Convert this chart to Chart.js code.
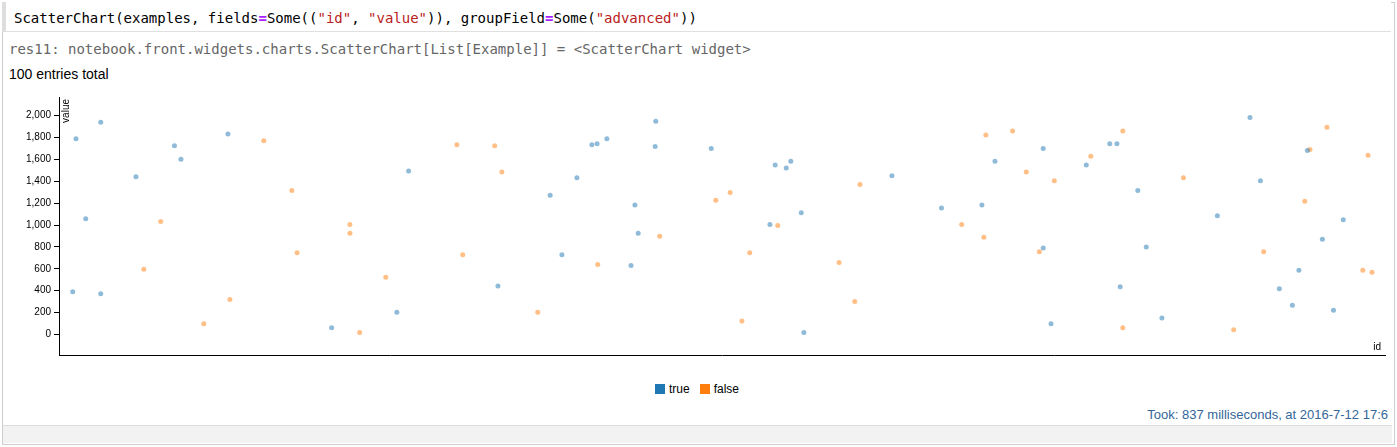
<!DOCTYPE html>
<html><head><meta charset="utf-8">
<script src="https://cdn.jsdelivr.net/npm/chart.js@4"></script>
<style>
body{margin:0;background:#fff;font-family:"Liberation Sans",Arial,sans-serif;}
#frame{position:absolute;left:2px;top:2px;width:1391px;height:441px;border:1px solid #cfcfcf;}
#code{position:absolute;left:2px;top:2px;width:1389px;height:30px;background:#fff;border-bottom:1px solid #e0e0e0;border-left:4px solid #ddd;box-sizing:border-box;font:14px "DejaVu Sans Mono",monospace;padding:8px 0 0 8px;color:#000;}
.s{color:#ba2121}.k{color:#aa22ff;font-weight:bold}
#res{position:absolute;left:9px;top:41px;font:14px "DejaVu Sans Mono",monospace;color:#666;}
#total{position:absolute;left:9px;top:66px;font-size:14px;}
#c{position:absolute;left:8px;top:88px;}
#legend{position:absolute;left:655px;top:382px;font-size:12px;}
#legend span.b{display:inline-block;width:10px;height:10px;margin-right:4px;vertical-align:-1px}
#took{position:absolute;right:9px;top:407px;font-size:13px;color:#336699;}
#foot{position:absolute;left:3px;top:425px;width:1389px;height:17px;background:#f2f2f2;border-top:1px solid #ddd;}
</style></head><body>
<div id="frame"></div>
<div id="code">ScatterChart(examples, fields<span class="k">=</span>Some((<span class="s">"id"</span>, <span class="s">"value"</span>)), groupField<span class="k">=</span>Some(<span class="s">"advanced"</span>))</div>
<div id="res">res11: notebook.front.widgets.charts.ScatterChart[List[Example]] = &lt;ScatterChart widget&gt;</div>
<div id="total">100 entries total</div>
<canvas id="c" width="1382" height="290"></canvas>
<div id="legend"><span class="b" style="background:#1f77b4"></span>true&nbsp;&nbsp;&nbsp;<span class="b" style="background:#ff7f0e"></span>false</div>
<div id="took">Took: 837 milliseconds, at 2016-7-12 17:6</div>
<div id="foot"></div>
<script>
const trueIds = [0,5,20,43,43,97,156,166,238,397,497,515,652,732,750,773,796,804,819,856,862,867,893,894,979,1069,1077,1094,1101,1117,1121,1256,1332,1394,1414,1488,1488,1500,1554,1590,1601,1606,1633,1646,1670,1755,1805,1821,1850,1870,1880,1893,1916,1933,1948];
const trueValues = [391,1787,1058,1938,373,1440,1724,1600,1831,62,204,1493,444,1271,729,1431,1733,1742,1787,631,1182,924,1716,1947,1698,1004,1547,1520,1582,1111,18,1449,1156,1182,1582,1698,791,98,1547,1742,1742,436,1316,800,151,1084,1982,1404,418,267,587,1680,871,222,1049];
const falseIds = [109,135,201,241,293,336,344,425,425,440,480,589,598,647,658,713,805,900,986,1008,1026,1038,1081,1175,1199,1207,1363,1397,1400,1441,1462,1482,1505,1561,1610,1610,1703,1780,1826,1889,1897,1923,1978,1986,1992];
const falseValues = [596,1031,98,320,1769,1316,747,1004,924,18,524,1733,729,1724,1484,204,640,898,1227,1298,124,747,996,658,302,1369,1004,889,1822,1858,1484,756,1404,1627,1858,62,1431,44,756,1218,1689,1893,587,1636,569];

const pts = (xs, ys) => xs.map((x, i) => ({x: x, y: ys[i]}));
const tickFilter = s => { s.ticks = s.ticks.filter(t => t.value >= 0 && t.value % 200 === 0); };

const titles = {
  id: 'titles',
  afterDraw(chart) {
    const c = chart.ctx, a = chart.chartArea;
    c.save();
    c.fillStyle = '#000';
    c.font = '10px "Liberation Sans", Arial, sans-serif';
    c.textAlign = 'right';
    c.fillText('id', a.right - 4, a.bottom - 5);
    c.translate(a.left + 10, a.top + 2);
    c.rotate(-Math.PI / 2);
    c.fillText('value', 0, 0);
    c.restore();
  }
};

new Chart(document.getElementById('c'), {
  type: 'scatter',
  data: {
    datasets: [
      {label: 'true', data: pts(trueIds, trueValues), backgroundColor: 'rgba(31,119,180,0.5)', borderWidth: 0, pointRadius: 2.5},
      {label: 'false', data: pts(falseIds, falseValues), backgroundColor: 'rgba(255,127,14,0.5)', borderWidth: 0, pointRadius: 2.5}
    ]
  },
  plugins: [titles],
  options: {
    responsive: false,
    animation: false,
    layout: {padding: {top: 2, right: 5}},
    plugins: {legend: {display: false}, tooltip: {enabled: false}},
    scales: {
      x: {
        min: -21, max: 2012,
        afterBuildTicks: tickFilter,
        afterFit: s => { s.height = 23; },
        ticks: {stepSize: 200, maxRotation: 0, autoSkip: false, color: '#000', padding: 2, font: {size: 10, family: '"Liberation Sans", Arial, sans-serif'}},
        grid: {drawOnChartArea: false, tickLength: 5, color: '#000'},
        border: {color: '#000'}
      },
      y: {
        min: -187, max: 2169,
        afterBuildTicks: tickFilter,
        afterFit: s => { s.width = 51; },
        ticks: {stepSize: 200, autoSkip: false, color: '#000', padding: 3, font: {size: 10, family: '"Liberation Sans", Arial, sans-serif'}},
        grid: {drawOnChartArea: false, tickLength: 5, color: '#000'},
        border: {color: '#000'}
      }
    }
  }
});
</script>
</body></html>
